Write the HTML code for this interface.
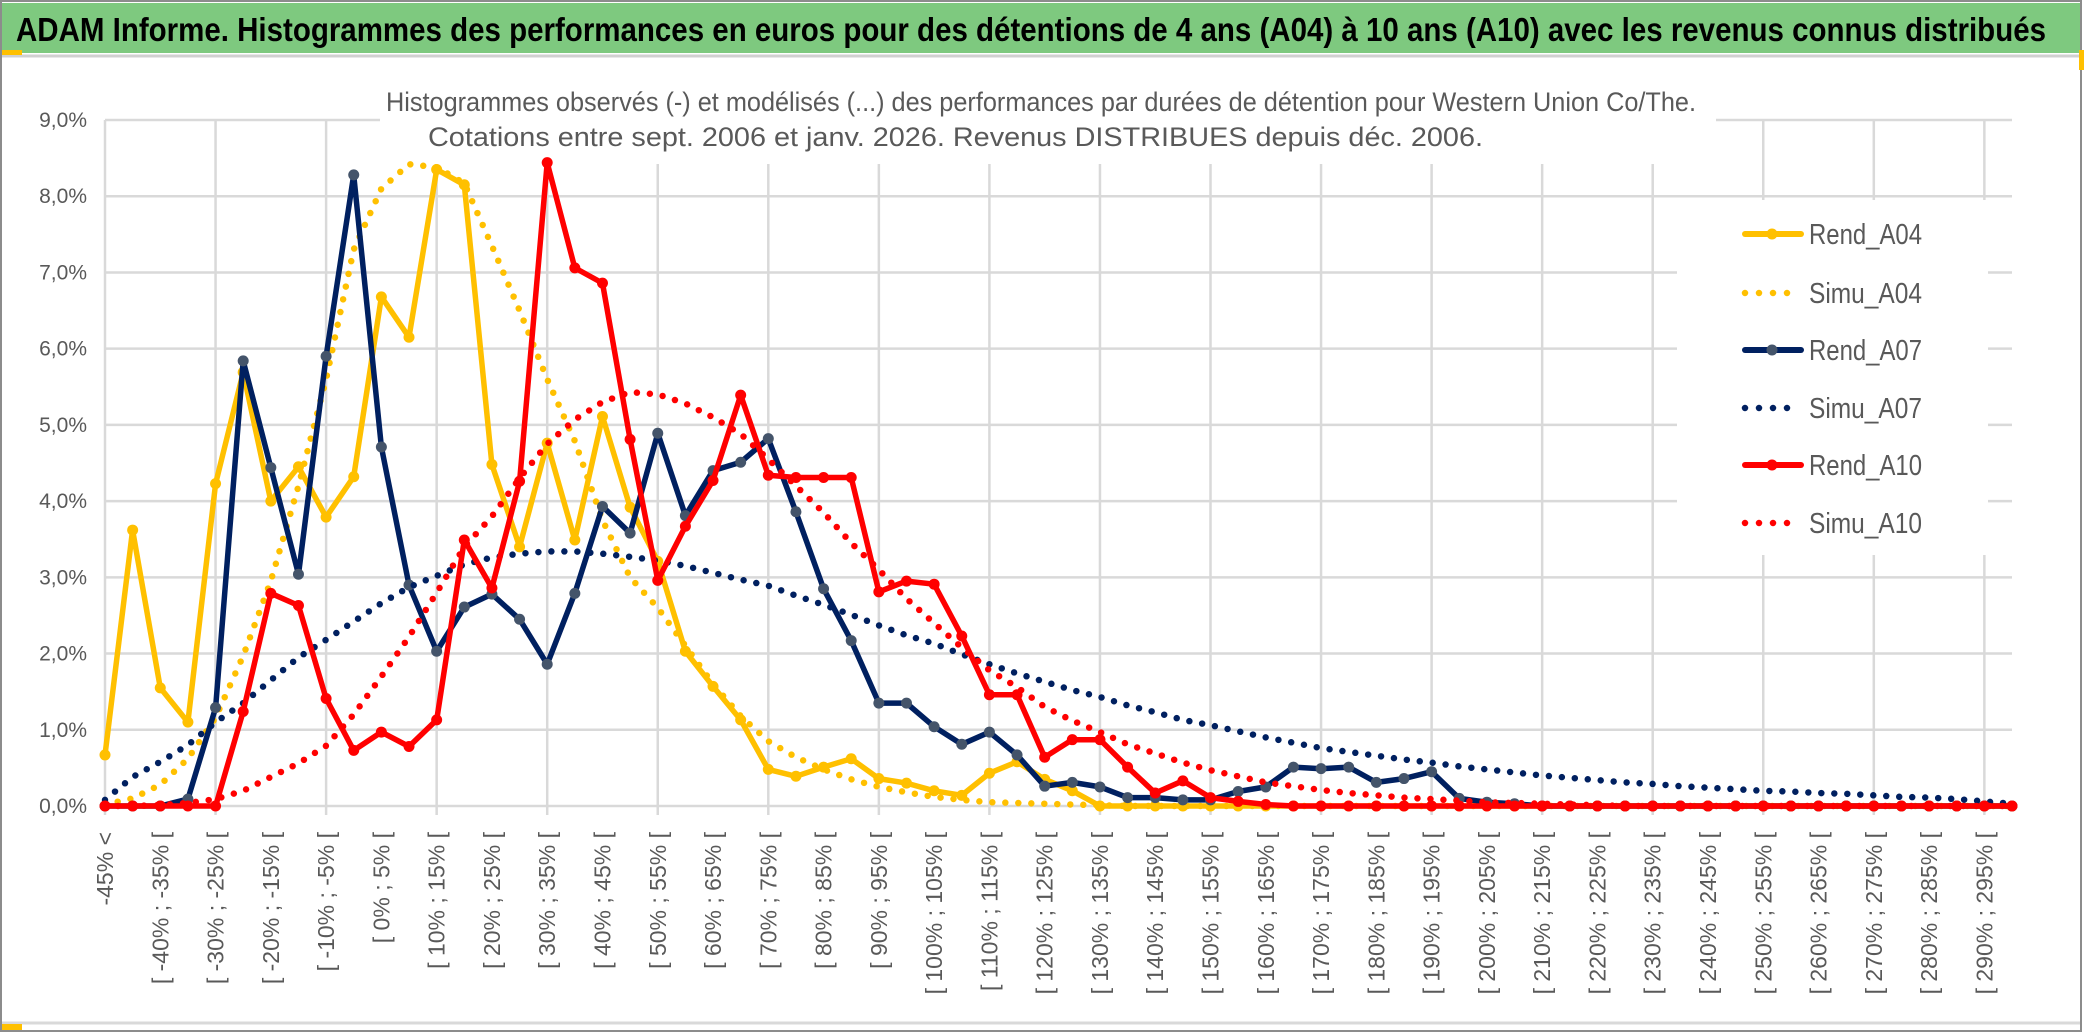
<!DOCTYPE html>
<html><head><meta charset="utf-8">
<style>
html,body{margin:0;padding:0;background:#fff;}
svg{display:block;}
</style></head>
<body>
<svg id="chart" width="2086" height="1033" viewBox="0 0 2086 1033" xmlns="http://www.w3.org/2000/svg">
  <rect x="0" y="0" width="2086" height="1033" fill="#fff"/>
  <rect x="1" y="1" width="2080" height="1030" fill="none" stroke="#8c8c8c" stroke-width="2"/>
  <rect x="2" y="3" width="2078" height="50" fill="#7ec97f"/>
  <line x1="2" y1="56" x2="2080" y2="56" stroke="#d0d0d0" stroke-width="3"/>
  <line x1="2" y1="1023" x2="2080" y2="1023" stroke="#d9d9d9" stroke-width="3"/>
  <rect x="2" y="50" width="20" height="5" fill="#ffc000"/>
  <rect x="2" y="1024" width="20" height="6" fill="#ffc000"/>
  <rect x="2079" y="50" width="5" height="20" fill="#ffc000"/>
  <text x="16" y="41" font-family="'Liberation Sans Narrow','Liberation Sans',sans-serif" font-weight="bold" font-size="33" fill="#000" textLength="2030" lengthAdjust="spacingAndGlyphs">ADAM Informe. Histogrammes des performances en euros pour des détentions de 4 ans (A04) à 10 ans (A10) avec les revenus connus distribués</text>
  <g id="grid"></g>
  <rect x="380" y="62" width="1336" height="102" fill="#fff"/>
  <text x="386" y="111" font-family="'Liberation Sans Narrow','Liberation Sans',sans-serif" font-size="27" fill="#595959" textLength="1310" lengthAdjust="spacingAndGlyphs">Histogrammes observés (-) et modélisés (...) des performances par durées de détention pour Western Union Co/The.</text>
  <text x="428" y="146" font-family="'Liberation Sans Narrow','Liberation Sans',sans-serif" font-size="27" fill="#595959" textLength="1055" lengthAdjust="spacingAndGlyphs">Cotations entre sept. 2006 et janv. 2026. Revenus DISTRIBUES depuis déc. 2006.</text>
  <rect x="1677" y="200" width="311" height="355" fill="#fff"/>
  <g id="yticks"></g>
  <g id="xticks"></g>
  <g id="series"></g>
  <g id="legend"></g>
</svg>
<script>
const categories = ["-45% <","[ -45% ; -40% [","[ -40% ; -35% [","[ -35% ; -30% [","[ -30% ; -25% [","[ -25% ; -20% [","[ -20% ; -15% [","[ -15% ; -10% [","[ -10% ; -5% [","[ -5% ; 0% [","[ 0% ; 5% [","[ 5% ; 10% [","[ 10% ; 15% [","[ 15% ; 20% [","[ 20% ; 25% [","[ 25% ; 30% [","[ 30% ; 35% [","[ 35% ; 40% [","[ 40% ; 45% [","[ 45% ; 50% [","[ 50% ; 55% [","[ 55% ; 60% [","[ 60% ; 65% [","[ 65% ; 70% [","[ 70% ; 75% [","[ 75% ; 80% [","[ 80% ; 85% [","[ 85% ; 90% [","[ 90% ; 95% [","[ 95% ; 100% [","[ 100% ; 105% [","[ 105% ; 110% [","[ 110% ; 115% [","[ 115% ; 120% [","[ 120% ; 125% [","[ 125% ; 130% [","[ 130% ; 135% [","[ 135% ; 140% [","[ 140% ; 145% [","[ 145% ; 150% [","[ 150% ; 155% [","[ 155% ; 160% [","[ 160% ; 165% [","[ 165% ; 170% [","[ 170% ; 175% [","[ 175% ; 180% [","[ 180% ; 185% [","[ 185% ; 190% [","[ 190% ; 195% [","[ 195% ; 200% [","[ 200% ; 205% [","[ 205% ; 210% [","[ 210% ; 215% [","[ 215% ; 220% [","[ 220% ; 225% [","[ 225% ; 230% [","[ 230% ; 235% [","[ 235% ; 240% [","[ 240% ; 245% [","[ 245% ; 250% [","[ 250% ; 255% [","[ 255% ; 260% [","[ 260% ; 265% [","[ 265% ; 270% [","[ 270% ; 275% [","[ 275% ; 280% [","[ 280% ; 285% [","[ 285% ; 290% [","[ 290% ; 295% [","[ 295% ; 300% ["];
const yTickValues = [0,1,2,3,4,5,6,7,8,9];
const yTickLabels = ["0,0%","1,0%","2,0%","3,0%","4,0%","5,0%","6,0%","7,0%","8,0%","9,0%"];
const rendA04 = [0.67,3.62,1.55,1.10,4.23,5.69,4.00,4.45,3.79,4.32,6.68,6.15,8.35,8.15,4.48,3.40,4.76,3.49,5.11,3.92,3.21,2.03,1.57,1.13,0.48,0.39,0.51,0.62,0.36,0.30,0.20,0.14,0.43,0.58,0.35,0.20,0,0,0,0,0,0,0,0,0,0,0,0,0,0,0,0,0,0,0,0,0,0,0,0,0,0,0,0,0,0,0,0,0,0];
const simuA04 = [0.02,0.10,0.28,0.62,1.16,1.97,2.95,4.20,5.60,7.30,8.10,8.42,8.38,8.17,7.35,6.50,5.60,4.79,3.75,3.00,2.60,2.10,1.60,1.18,0.85,0.64,0.48,0.35,0.25,0.18,0.12,0.08,0.05,0.04,0.03,0.02,0.01,0,0,0,0,0,0,0,0,0,0,0,0,0,0,0,0,0,0,0,0,0,0,0,0,0,0,0,0,0,0,0,0,0];
const rendA07 = [0,0,0,0.09,1.29,5.84,4.44,3.04,5.90,8.28,4.71,2.90,2.03,2.61,2.78,2.45,1.86,2.79,3.93,3.58,4.89,3.81,4.40,4.51,4.82,3.86,2.85,2.17,1.35,1.35,1.04,0.81,0.97,0.67,0.26,0.31,0.25,0.11,0.11,0.08,0.08,0.19,0.25,0.51,0.49,0.51,0.31,0.36,0.45,0.10,0.05,0.03,0,0,0,0,0,0,0,0,0,0,0,0,0,0,0,0,0,0];
const simuA07 = [0.08,0.38,0.58,0.80,1.10,1.35,1.65,1.95,2.18,2.42,2.66,2.87,3.02,3.17,3.26,3.31,3.34,3.34,3.31,3.27,3.22,3.15,3.06,2.97,2.89,2.76,2.64,2.51,2.37,2.24,2.13,1.99,1.86,1.74,1.63,1.52,1.43,1.32,1.23,1.13,1.06,0.98,0.90,0.83,0.76,0.71,0.66,0.61,0.57,0.52,0.48,0.44,0.40,0.37,0.34,0.31,0.29,0.26,0.24,0.22,0.20,0.19,0.17,0.16,0.14,0.12,0.11,0.09,0.06,0.03];
const rendA10 = [0,0,0,0,0,1.24,2.79,2.63,1.41,0.73,0.97,0.78,1.13,3.49,2.86,4.26,8.44,7.06,6.86,4.81,2.96,3.67,4.27,5.39,4.34,4.31,4.31,4.31,2.81,2.95,2.91,2.23,1.46,1.46,0.64,0.87,0.87,0.51,0.17,0.33,0.11,0.06,0.02,0,0,0,0,0,0,0,0,0,0,0,0,0,0,0,0,0,0,0,0,0,0,0,0,0,0,0];
const simuA10 = [0,0,0.01,0.04,0.09,0.20,0.38,0.56,0.79,1.20,1.70,2.22,2.80,3.40,3.80,4.30,4.75,5.07,5.30,5.43,5.40,5.28,5.10,4.88,4.55,4.20,3.85,3.45,3.10,2.72,2.40,2.08,1.78,1.56,1.30,1.12,0.97,0.81,0.69,0.57,0.47,0.39,0.31,0.26,0.21,0.17,0.14,0.11,0.09,0.07,0.05,0.04,0.03,0.02,0.01,0,0,0,0,0,0,0,0,0,0,0,0,0,0,0];

const NS = "http://www.w3.org/2000/svg";
const X0 = 105, X1 = 2012, Y0 = 806, YTOP = 120;
const n = categories.length;
function xPos(i){ return X0 + i*(X1-X0)/(n-1); }
function yPos(v){ return Y0 - v*(Y0-YTOP)/9; }
function mk(tag, attrs, parent){ const e=document.createElementNS(NS,tag); for(const k in attrs) e.setAttribute(k, attrs[k]); parent.appendChild(e); return e; }

const grid = document.getElementById('grid');
yTickValues.forEach(function(v){
  const l = mk('line',{x1:X0,y1:yPos(v),x2:X1,y2:yPos(v),stroke:'#d9d9d9','stroke-width':2.5},grid);
  
  
});
for(let i=0;i<n;i+=4){
  const l = mk('line',{x1:xPos(i),y1:YTOP,x2:xPos(i),y2:Y0+9,stroke:'#d9d9d9','stroke-width':2.5},grid);
  
  
}
const yt = document.getElementById('yticks');
yTickValues.forEach(function(v,i){
  const t = mk('text',{x:87,y:yPos(v)+7,'text-anchor':'end','font-family':"'Liberation Sans Narrow','Liberation Sans',sans-serif",'font-size':21,fill:'#595959'},yt);
  t.textContent = yTickLabels[i];
  
  
});
const xt = document.getElementById('xticks');
for(let i=0;i<n;i+=2){
  const x = xPos(i)+8, y = 832;
  const t = mk('text',{x:x,y:y,'text-anchor':'end','font-family':"'Liberation Sans',sans-serif",'font-size':23,fill:'#595959',transform:'rotate(-90 '+x+' '+y+')'},xt);
  t.textContent = categories[i];
  
  
}

const ser = document.getElementById('series');
function pts(arr){ return arr.map(function(v,i){return xPos(i).toFixed(1)+','+yPos(v).toFixed(1);}).join(' '); }
function solid(arr,color,mcolor,name){
  const g = mk('g',{},ser);
  
  
  const p = mk('polyline',{points:pts(arr),fill:'none',stroke:color,'stroke-width':5.5,'stroke-linejoin':'round','stroke-linecap':'round'},g);
  
  
  arr.forEach(function(v,i){
    const c = mk('circle',{cx:xPos(i),cy:yPos(v),r:5.5,fill:mcolor},g);
    
    
  });
}
function dotted(arr,color,name){
  const p = mk('polyline',{points:pts(arr),fill:'none',stroke:color,'stroke-width':6.5,'stroke-linecap':'round','stroke-dasharray':'0 13'},ser);
  
  
}
solid(rendA04,'#ffc000','#ffc000','rend-a04');
dotted(simuA04,'#ffc000','simu-a04');
solid(rendA07,'#002060','#44546a','rend-a07');
dotted(simuA07,'#002060','simu-a07');
solid(rendA10,'#ff0000','#ff0000','rend-a10');
dotted(simuA10,'#ff0000','simu-a10');

const lg = document.getElementById('legend');
const legendItems = [["Rend_A04","#ffc000","#ffc000",true],["Simu_A04","#ffc000","",false],["Rend_A07","#002060","#44546a",true],["Simu_A07","#002060","",false],["Rend_A10","#ff0000","#ff0000",true],["Simu_A10","#ff0000","",false]];
const legendY = [234,293,350,408,465,523];
legendItems.forEach(function(it,i){
  const y = legendY[i];
  const g = mk('g',{},lg);
  
  
  if(it[3]){
    mk('line',{x1:1745,y1:y,x2:1801,y2:y,stroke:it[1],'stroke-width':6,'stroke-linecap':'round'},g);
    mk('circle',{cx:1772,cy:y,r:5.5,fill:it[2]},g);
  } else {
    mk('line',{x1:1745,y1:y,x2:1795,y2:y,stroke:it[1],'stroke-width':6.5,'stroke-linecap':'round','stroke-dasharray':'0 14'},g);
  }
  const t = mk('text',{x:1809,y:y+10,'font-family':"'Liberation Sans Narrow','Liberation Sans',sans-serif",'font-size':29,fill:'#595959',textLength:113,lengthAdjust:'spacingAndGlyphs'},g);
  t.textContent = it[0];
  
  
});
</script>
</body></html>
